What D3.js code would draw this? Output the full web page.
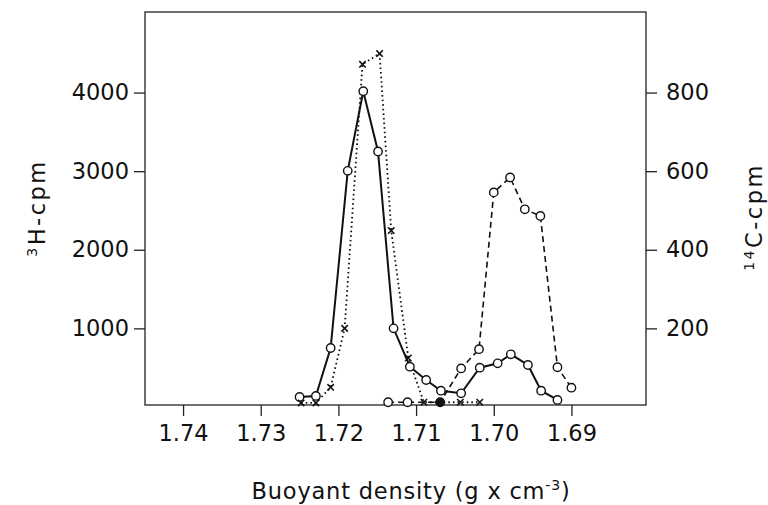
<!DOCTYPE html>
<html><head><meta charset="utf-8">
<script src="https://cdn.jsdelivr.net/npm/d3@7"></script>
<style>
body{margin:0;background:#fff;}
text{font-family:"DejaVu Sans",sans-serif;fill:#111;}
</style></head>
<body><svg id="c" width="768" height="505"></svg>
<script>
// 3H solid line with open circles (left axis)
const hSolidDensity = [1.7250,1.7229,1.7210,1.7188,1.7168,1.7149,1.7129,1.7108,1.7087,1.7068,1.7042,1.7018,1.6995,1.6978,1.6956,1.6939,1.6918];
const hSolidCpm     = [127,140,750,3004,4017,3250,1000,512,343,207,174,500,555,670,534,207,89];
// dotted line with crosses (left axis)
const hDotDensity = [1.7248,1.7229,1.7210,1.7192,1.7169,1.7147,1.7132,1.7110,1.7090,1.7069,1.7043,1.7018];
const hDotCpm     = [51,51,250,1000,4360,4496,2244,623,60,60,60,60];
// 14C dashed line with open circles (right axis)
const cDashDensity = [1.7136,1.7111,1.7069,1.7042,1.7019,1.7000,1.6979,1.6960,1.6940,1.6918,1.6900];
const cDashCpm     = [12,12,12,98,147,546,584,503,486,101,49];
// ticks
const xTicks = [1.74,1.73,1.72,1.71,1.70,1.69];
const leftTicks = [1000,2000,3000,4000];
const rightTicks = [200,400,600,800];

const svg = d3.select("#c");
const L=145,R=646,T=12,B=405;
const x = d3.scaleLinear().domain([1.7449,1.6804]).range([L,R]);
const yL = d3.scaleLinear().domain([25,5025]).range([B,T]);
const yR = d3.scaleLinear().domain([5,1005]).range([B,T]);

svg.append("rect").attr("x",L).attr("y",T).attr("width",R-L).attr("height",B-T)
  .attr("fill","none").attr("stroke","#222").attr("stroke-width",1.3);

const fs = 22.5;
const xa = svg.append("g").attr("transform",`translate(0,${B})`)
  .call(d3.axisBottom(x).tickValues(xTicks).tickSize(11).tickPadding(9).tickFormat(d3.format(".2f")));
const la = svg.append("g").attr("transform",`translate(${L},0)`)
  .call(d3.axisLeft(yL).tickValues(leftTicks).tickSize(11).tickPadding(5).tickFormat(d3.format("d")));
const ra = svg.append("g").attr("transform",`translate(${R},0)`)
  .call(d3.axisRight(yR).tickValues(rightTicks).tickSize(11).tickPadding(9).tickFormat(d3.format("d")));
[xa,la,ra].forEach(a=>{
  a.select(".domain").remove();
  a.selectAll("line").attr("stroke","#222").attr("stroke-width",1.3);
  a.selectAll("text").attr("font-size",fs).attr("font-family","DejaVu Sans").attr("fill","#111");
});

// titles
svg.append("text").attr("transform","translate(45,208) rotate(-90)").attr("text-anchor","middle")
  .attr("font-size",fs).attr("letter-spacing",2.5).html('<tspan dy="-8" font-size="14">3</tspan><tspan dy="8">H-cpm</tspan>');
svg.append("text").attr("transform","translate(762,217) rotate(-90)").attr("text-anchor","middle")
  .attr("font-size",fs).attr("letter-spacing",2.5).html('<tspan dy="-8" font-size="14">14</tspan><tspan dy="8">C-cpm</tspan>');
svg.append("text").attr("x",411).attr("y",499).attr("text-anchor","middle")
  .attr("font-size",fs).attr("letter-spacing",0.8).html('Buoyant density (g x cm<tspan dy="-9" font-size="14">-3</tspan><tspan dy="9">)</tspan>');

function pts(dens,vals,ys){return dens.map((d,i)=>[x(d),ys(vals[i])]);}
const line = d3.line();

const dotP = pts(hDotDensity,hDotCpm,yL);
const solP = pts(hSolidDensity,hSolidCpm,yL);
const dashP = pts(cDashDensity,cDashCpm,yR);
const same = (a,b)=>Math.abs(a-b)<0.00005;

svg.append("path").attr("d",line(dotP)).attr("fill","none").attr("stroke","#111")
  .attr("stroke-width",1.8).attr("stroke-dasharray","1.6,3").attr("stroke-linecap","butt");
svg.append("path").attr("d",line(dashP)).attr("fill","none").attr("stroke","#111")
  .attr("stroke-width",1.6).attr("stroke-dasharray","6,4");
svg.append("path").attr("d",line(solP)).attr("fill","none").attr("stroke","#111")
  .attr("stroke-width",2);

// circles
const circ = (P,filledFn)=>svg.append("g").selectAll("circle").data(P).enter().append("circle")
  .attr("cx",d=>d[0]).attr("cy",d=>d[1]).attr("r",4.2)
  .attr("fill",(d,i)=>filledFn&&filledFn(i)?"#111":"#fff").attr("stroke","#111").attr("stroke-width",1.4);
circ(solP);
// dashed point coinciding with a dotted point is drawn filled
circ(dashP,i=>hDotDensity.some(d=>same(d,cDashDensity[i])));

// crosses
const s=3.2;
svg.append("g").selectAll("path").data(dotP.filter((p,i)=>!cDashDensity.some(d=>same(d,hDotDensity[i]))))
  .enter().append("path")
  .attr("d",d=>`M${d[0]-s},${d[1]-s}L${d[0]+s},${d[1]+s}M${d[0]-s},${d[1]+s}L${d[0]+s},${d[1]-s}`)
  .attr("stroke","#111").attr("stroke-width",1.6);
</script></body></html>
